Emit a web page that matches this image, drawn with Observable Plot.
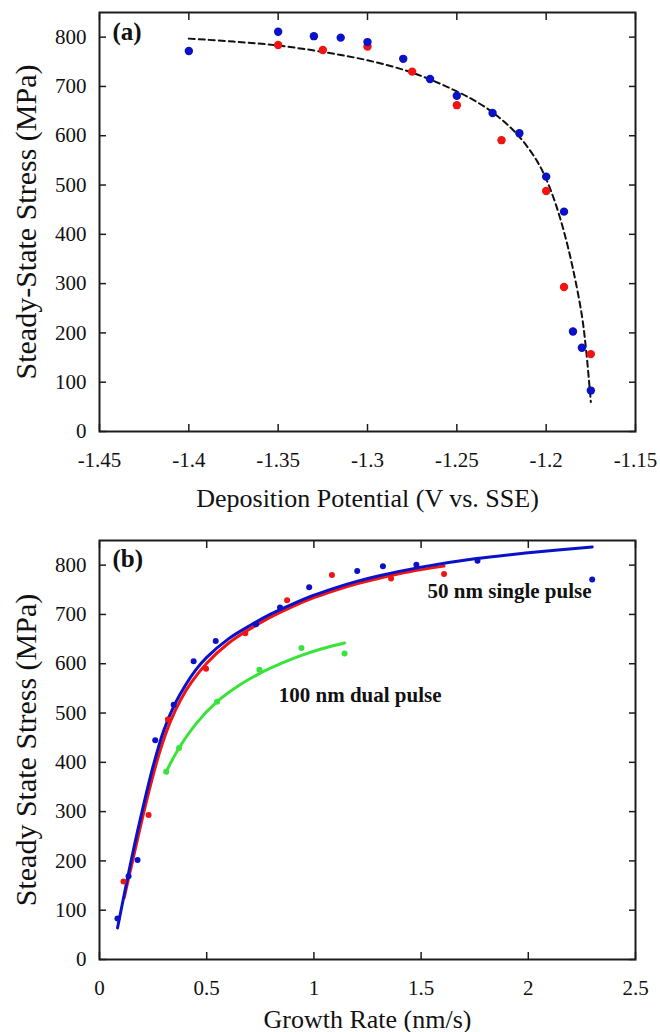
<!DOCTYPE html>
<html><head><meta charset="utf-8">
<script src="https://cdn.jsdelivr.net/npm/d3@7"></script>
<script src="https://cdn.jsdelivr.net/npm/@observablehq/plot@0.6"></script>
<style>body{margin:0;background:#fff} #chart svg{display:block}</style>
</head><body><div id="chart"></div>
<script>
// ---------- Panel (a) data ----------
const aBlueX = [-1.4, -1.35, -1.33, -1.315, -1.3, -1.28, -1.265, -1.25, -1.23, -1.215, -1.2, -1.19, -1.185, -1.18, -1.175];
const aBlueY = [772, 811, 802, 799, 790, 756, 715, 681, 646, 605, 517, 446, 203, 170, 83];
const aRedX = [-1.35, -1.325, -1.3, -1.275, -1.25, -1.225, -1.2, -1.19, -1.175];
const aRedY = [784, 774, 781, 730, 662, 591, 488, 293, 157];
const aFitX = [-1.4, -1.375, -1.35, -1.325, -1.3, -1.275, -1.25, -1.235, -1.225, -1.215, -1.205, -1.2, -1.195, -1.19, -1.185, -1.18, -1.1775, -1.175];
const aFitY = [797, 791, 783, 770, 753, 728, 690, 660, 633, 598, 548, 512, 465, 405, 330, 235, 160, 60];
const aXTicks = [-1.45, -1.4, -1.35, -1.3, -1.25, -1.2, -1.15];
const aXTickLabels = ["-1.45", "-1.4", "-1.35", "-1.3", "-1.25", "-1.2", "-1.15"];
const yTicks = [0, 100, 200, 300, 400, 500, 600, 700, 800];
const yTickLabels = ["0", "100", "200", "300", "400", "500", "600", "700", "800"];

// ---------- Panel (b) data ----------
const bBlueX = [0.084, 0.1355, 0.1775, 0.26, 0.346, 0.439, 0.542, 0.73, 0.842, 0.978, 1.202, 1.322, 1.478, 1.763, 2.298];
const bBlueY = [83, 169, 202, 445, 517, 605, 646, 680, 714, 755, 788, 798, 801, 809, 771];
const bRedX = [0.112, 0.229, 0.319, 0.497, 0.68, 0.875, 1.084, 1.36, 1.607];
const bRedY = [158, 293, 487, 590, 662, 729, 780, 773, 782];
const bGreenX = [0.311, 0.371, 0.548, 0.746, 0.942, 1.143];
const bGreenY = [381, 429, 523, 588, 632, 621];
const bBlueFitX = [0.084, 0.12, 0.16, 0.2, 0.25, 0.3, 0.35, 0.4, 0.45, 0.5, 0.6, 0.7, 0.8, 0.9, 1.0, 1.1, 1.2, 1.3, 1.5, 1.75, 2.0, 2.298];
const bBlueFitY = [64, 142, 226, 303, 392, 465, 517, 556, 588, 613, 650, 677, 701, 721, 739, 754, 767, 778, 796, 813, 825, 837];
const bRedFitX = [0.115, 0.15, 0.19, 0.23, 0.28, 0.33, 0.38, 0.43, 0.5, 0.6, 0.7, 0.8, 0.9, 1.0, 1.1, 1.2, 1.3, 1.45, 1.607];
const bRedFitY = [125, 192, 268, 340, 420, 482, 528, 563, 601, 641, 670, 695, 716, 734, 749, 762, 773, 787, 798];
const bGreenFitX = [0.311, 0.371, 0.45, 0.548, 0.65, 0.746, 0.85, 0.942, 1.05, 1.143];
const bGreenFitY = [381, 429, 478, 523, 556, 580, 601, 617, 632, 642];
const bXTicks = [0, 0.5, 1, 1.5, 2, 2.5];
const bXTickLabels = ["0", "0.5", "1", "1.5", "2", "2.5"];
const bSeriesNames = ["50 nm single pulse", "100 nm dual pulse"];
const bSeriesLabelX = [1.53, 0.836];
const bSeriesLabelY = [747, 537];

// ---------- helpers ----------
const FONT = '"Liberation Serif","Times New Roman",serif';
const BLUE = "#0a12c8", RED = "#f01414", GREEN = "#38e438", INK = "#1c1c1c";
const zip = (xs, ys) => xs.map((x, i) => ({x, y: ys[i]}));

function frameAxes(xTicks, xLabels, xTitle, yTitle, xTitleDy) {
  return [
    Plot.axisX(xTicks, {anchor: "bottom", tickSize: -7, tickFormat: () => "", label: null, stroke: INK, strokeWidth: 1.5}),
    Plot.axisX(xTicks, {anchor: "top", tickSize: -7, tickFormat: () => "", label: null, stroke: INK, strokeWidth: 1.5}),
    Plot.axisY(yTicks, {anchor: "left", tickSize: -7, tickFormat: () => "", label: null, stroke: INK, strokeWidth: 1.5}),
    Plot.axisY(yTicks, {anchor: "right", tickSize: -7, tickFormat: () => "", label: null, stroke: INK, strokeWidth: 1.5}),
    Plot.axisX(xTicks, {anchor: "bottom", tickSize: 0, tickPadding: 21, fontSize: 21, label: null,
      tickFormat: d => xLabels[xTicks.indexOf(d)]}),
    Plot.axisY(yTicks, {anchor: "left", tickSize: 0, tickPadding: 13, fontSize: 21, label: null,
      tickFormat: d => yTickLabels[yTicks.indexOf(d)]}),
    Plot.frame({stroke: INK, strokeWidth: 2}),
    Plot.text([xTitle], {text: d => d, frameAnchor: "bottom", lineAnchor: "middle", textAnchor: "middle", dy: xTitleDy, fontSize: 26}),
    Plot.text([yTitle], {text: d => d, frameAnchor: "left", rotate: -90, lineAnchor: "middle", textAnchor: "middle", dx: -73, fontSize: 30})
  ];
}

const style = {fontFamily: FONT, background: "#fff", color: "#111", overflow: "visible"};

const plotA = Plot.plot({
  width: 660, height: 520,
  marginLeft: 99, marginRight: 25, marginTop: 12, marginBottom: 89,
  style,
  x: {domain: [-1.45, -1.15]},
  y: {domain: [0, 850]},
  marks: [
    ...frameAxes(aXTicks, aXTickLabels, "Deposition Potential (V vs. SSE)", "Steady-State Stress (MPa)", 67),
    Plot.line(zip(aFitX, aFitY), {x: "x", y: "y", curve: "catmull-rom", stroke: "#111", strokeWidth: 2, strokeDasharray: "6,4"}),
    Plot.dot(zip(aRedX, aRedY), {x: "x", y: "y", r: 4.2, fill: RED}),
    Plot.dot(zip(aBlueX, aBlueY), {x: "x", y: "y", r: 4.2, fill: BLUE}),
    Plot.text(["(a)"], {text: d => d, frameAnchor: "top-left", textAnchor: "start", lineAnchor: "top", dx: 13, dy: 10, fontSize: 25, fontWeight: "bold"})
  ]
});

const plotB = Plot.plot({
  width: 660, height: 512,
  marginLeft: 99, marginRight: 25, marginTop: 20, marginBottom: 73,
  style,
  x: {domain: [0, 2.5]},
  y: {domain: [0, 850]},
  marks: [
    ...frameAxes(bXTicks, bXTickLabels, "Growth Rate (nm/s)", "Steady State Stress (MPa)", 60),
    Plot.line(zip(bRedFitX, bRedFitY), {x: "x", y: "y", curve: "catmull-rom", stroke: RED, strokeWidth: 3}),
    Plot.line(zip(bBlueFitX, bBlueFitY), {x: "x", y: "y", curve: "catmull-rom", stroke: BLUE, strokeWidth: 3}),
    Plot.line(zip(bGreenFitX, bGreenFitY), {x: "x", y: "y", curve: "catmull-rom", stroke: GREEN, strokeWidth: 3}),
    Plot.dot(zip(bRedX, bRedY), {x: "x", y: "y", r: 3, fill: RED}),
    Plot.dot(zip(bBlueX, bBlueY), {x: "x", y: "y", r: 3, fill: BLUE}),
    Plot.dot(zip(bGreenX, bGreenY), {x: "x", y: "y", r: 3, fill: GREEN}),
    Plot.text(bSeriesNames, {text: d => d, x: (d, i) => bSeriesLabelX[i], y: (d, i) => bSeriesLabelY[i],
      textAnchor: "start", lineAnchor: "middle", fontSize: 21, fontWeight: "bold", fill: "#111"}),
    Plot.text(["(b)"], {text: d => d, frameAnchor: "top-left", textAnchor: "start", lineAnchor: "top", dx: 13, dy: 9, fontSize: 25, fontWeight: "bold"})
  ]
});

const root = document.getElementById("chart");
root.append(plotA, plotB);
</script></body></html>
